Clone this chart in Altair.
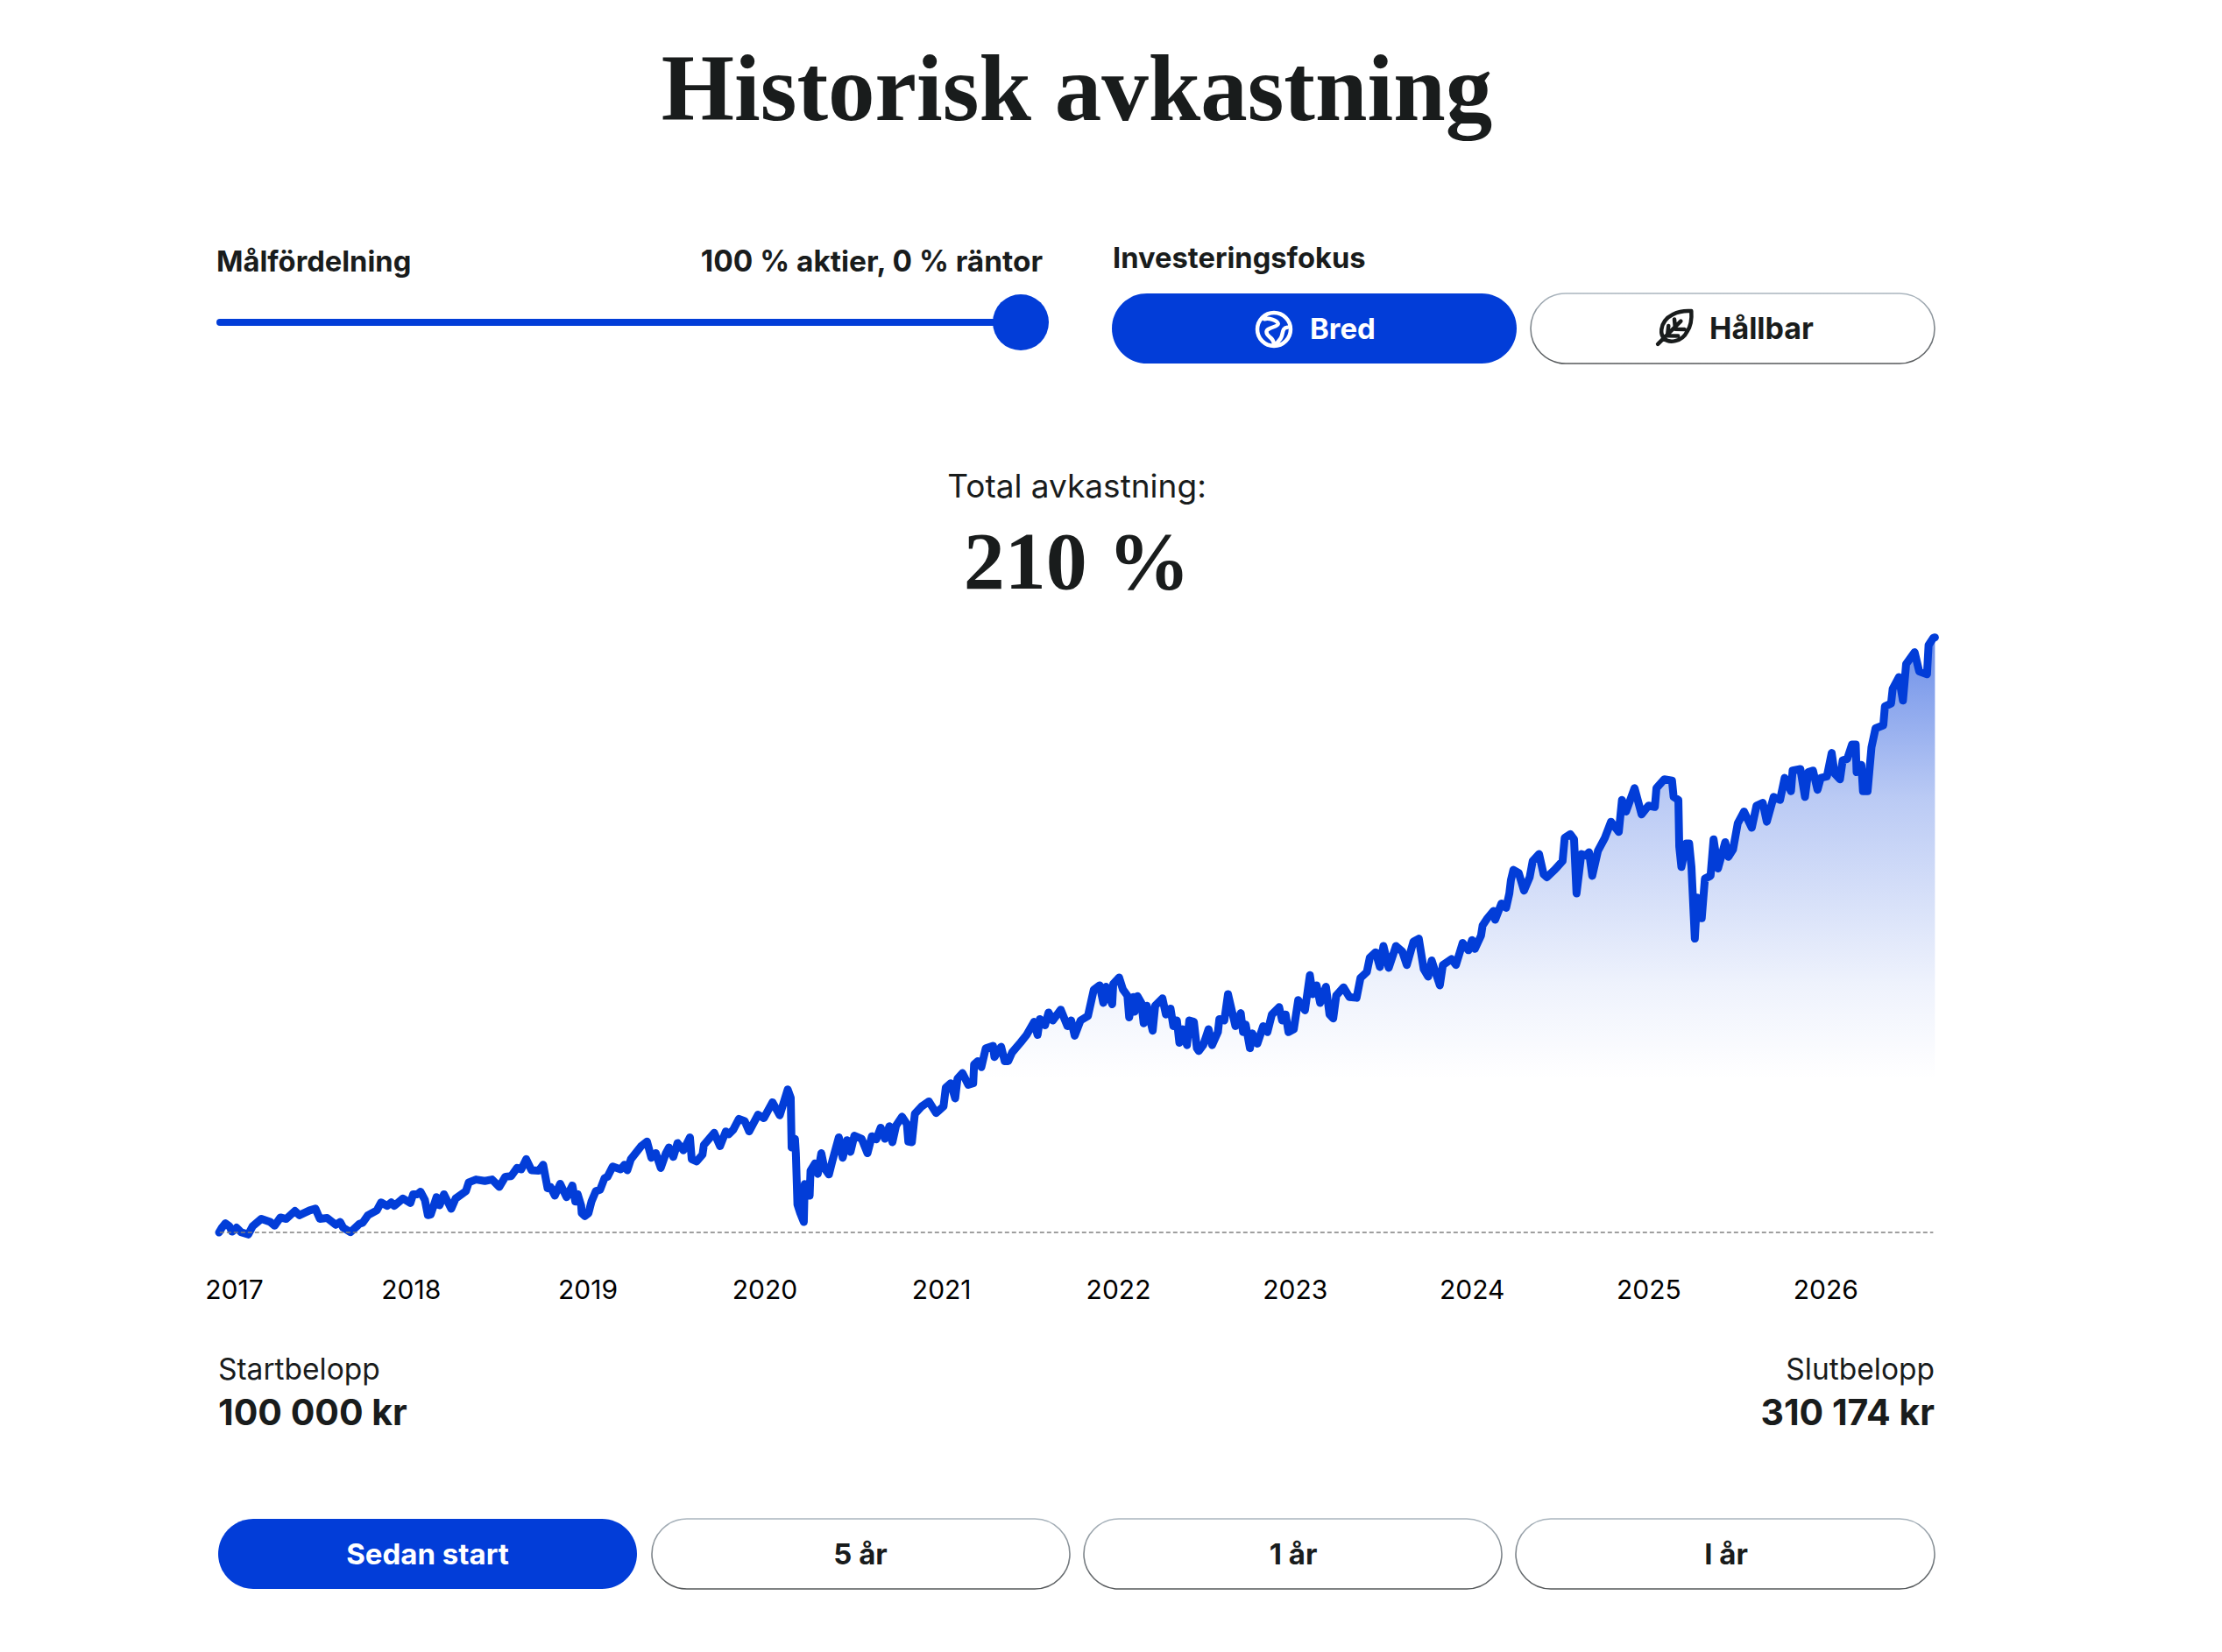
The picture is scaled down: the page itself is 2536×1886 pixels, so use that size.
import altair as alt
import pandas as pd

BLUE = "#023dd8"
INK = "#191c1c"
SERIF = "Liberation Serif"
SANS = "Inter"

# Chart values
years = [2016.916,2016.932,2016.952,2016.974,2016.990,2017.015,2017.040,2017.081,2017.106,2017.155,2017.205,2017.230,2017.263,2017.296,2017.345,2017.370,2017.428,2017.461,2017.486,2017.527,2017.576,2017.601,2017.618,2017.659,2017.709,2017.728,2017.758,2017.808,2017.832,2017.866,2017.890,2017.907,2017.956,2017.998,
2018.014,2018.039,2018.055,2018.080,2018.097,2018.113,2018.146,2018.163,2018.188,2018.229,2018.254,2018.312,2018.328,2018.369,2018.419,2018.460,2018.501,2018.535,2018.568,2018.601,2018.625,2018.653,2018.683,2018.724,2018.749,2018.774,2018.790,2018.815,2018.845,2018.881,2018.914,2018.931,2018.944,2018.964,2018.967,2018.984,
2019.005,2019.022,2019.047,2019.071,2019.096,2019.113,2019.142,2019.187,2019.208,2019.225,2019.245,2019.303,2019.336,2019.361,2019.386,2019.414,2019.443,2019.460,2019.485,2019.509,2019.542,2019.579,2019.589,2019.617,2019.650,2019.658,2019.716,2019.749,2019.782,2019.798,2019.823,2019.856,2019.889,2019.914,2019.964,2019.997,
2020.046,2020.087,2020.132,2020.149,2020.154,2020.173,2020.178,2020.187,2020.203,2020.223,2020.228,2020.256,2020.261,2020.286,2020.302,2020.322,2020.339,2020.365,2020.385,2020.421,2020.443,2020.467,2020.487,2020.509,2020.550,2020.583,2020.608,2020.633,2020.658,2020.682,2020.707,2020.724,2020.745,2020.778,2020.806,2020.814,2020.834,2020.851,2020.889,2020.930,2020.971,
2021.013,2021.026,2021.054,2021.079,2021.092,2021.120,2021.153,2021.181,2021.186,2021.207,2021.227,2021.252,2021.293,2021.301,2021.339,2021.359,2021.379,2021.401,2021.450,2021.483,2021.525,2021.545,2021.558,2021.587,2021.607,2021.631,2021.676,2021.714,2021.735,2021.755,2021.788,2021.830,2021.863,2021.896,2021.917,2021.932,2021.967,2021.973,
2022.006,2022.028,2022.053,2022.063,2022.086,2022.094,2022.110,2022.132,2022.145,2022.163,2022.196,2022.210,2022.251,2022.271,2022.297,2022.313,2022.333,2022.347,2022.366,2022.390,2022.403,2022.429,2022.446,2022.457,2022.482,2022.512,2022.532,2022.565,2022.573,2022.601,2022.622,2022.664,2022.694,2022.707,2022.722,2022.746,2022.760,2022.788,2022.821,2022.845,2022.870,2022.911,2022.928,2022.948,2022.964,2022.994,
2023.019,2023.057,2023.085,2023.101,2023.123,2023.143,2023.176,2023.196,2023.217,2023.234,2023.275,2023.308,2023.349,2023.371,2023.407,2023.424,2023.457,2023.481,2023.501,2023.531,2023.572,2023.608,2023.633,2023.671,2023.701,2023.729,2023.754,2023.774,2023.795,2023.820,2023.837,2023.886,2023.911,2023.949,2023.982,
2024.002,2024.018,2024.053,2024.062,2024.089,2024.124,2024.133,2024.168,2024.195,2024.213,2024.222,2024.236,2024.266,2024.296,2024.328,2024.345,2024.381,2024.407,2024.425,2024.469,2024.514,2024.526,2024.558,2024.579,2024.593,2024.620,2024.646,2024.664,2024.682,2024.714,2024.753,2024.788,2024.832,2024.850,2024.873,2024.921,2024.961,
2025.000,2025.036,2025.045,2025.089,2025.133,2025.142,2025.169,2025.174,2025.186,2025.213,2025.230,2025.243,2025.257,2025.262,2025.275,2025.301,2025.319,2025.351,2025.368,2025.393,2025.434,2025.452,2025.478,2025.505,2025.540,2025.584,2025.611,2025.646,2025.669,2025.708,2025.744,2025.770,2025.806,2025.815,2025.859,2025.885,2025.903,2025.930,2025.956,2025.974,
2026.009,2026.036,2026.053,2026.083,2026.098,2026.124,2026.151,2026.172,2026.177,2026.204,2026.213,2026.239,2026.261,2026.284,2026.328,2026.337,2026.372,2026.381,2026.416,2026.439,2026.457,2026.505,2026.531,2026.575,2026.584,2026.611,2026.620]

kkr = [100,101.7,103.2,102.2,100.3,101.7,100.1,99.3,102.2,104.8,103.7,102.4,105.3,104.8,107.6,106.1,107.8,108.4,104.8,105.1,102.7,103.7,101.7,100.1,103,103.4,106.1,107.8,110.6,109.4,110.6,109.4,112,110.4,
113.5,113.5,114.4,111.5,106.1,106.3,112.5,109.6,113.5,108.4,112,114.6,117.7,118.7,118.2,118.7,116.1,119.7,119.9,122.8,122.3,125.9,122,121.8,123.9,115.6,116.1,113,117.2,112.5,116.6,110.9,113.5,109.4,106.8,105.8,
106.8,110.9,114.6,115.1,119.2,119.7,123.3,122.3,123.9,122,125.9,130.5,132.1,126.4,128,122.8,128,130,126.7,131.6,129,133.6,125.9,125.1,127.5,130.9,135.2,130.5,135.7,134.7,136.2,140.1,139.3,135.7,141.6,140.4,
146,141.4,150.5,147.6,130,133.1,128,109.9,106.8,103.7,117.1,113,121.8,124.4,120.7,128,122.8,120.5,125.4,133.6,126.4,132.6,128.5,134.2,133.1,128,134,132.9,137,133.1,137.5,131.9,137.8,140.9,138.3,132.1,131.9,141.9,144.5,146.3,142.2,
144.5,151.2,152.7,147.4,154.3,156.3,152.2,152.7,159.4,160.5,158.4,165.1,165.9,162,165.6,160.5,160.5,163.6,167.2,169.8,174.4,169.8,175.4,173.2,177.7,174.9,178.7,172.9,174.9,169.5,174.9,176.5,185.8,187.3,181.1,186.8,180.6,187.8,
190.1,185.8,183.7,176,183.2,178,183.5,181.1,173.9,180.1,171.3,180.1,182.7,177,179.1,172.9,174.9,167,171.8,166.2,174.9,174.4,165.1,164.1,166.2,171.8,166.2,170.8,175.4,174.9,184.2,172.9,177.5,170.8,173.4,165.1,170.3,166.7,172.9,170.8,177,179.6,174.9,177,170.8,171.8,
182.1,178.5,190.9,184.2,187.3,181.1,186.8,177,175.6,183.7,186.6,183.2,182.9,189.9,192,197.1,199,193.8,201.2,193.5,201.2,199.2,194.5,202.8,203.8,193,190.4,196.1,192,187.3,194.5,196.6,194.5,202.3,199.7,
203.3,200.2,204.9,208.5,211,213.6,210.5,216.2,214.7,219.8,224.5,228.1,227,220.8,225.5,231.2,233.7,226.5,225.5,228.1,231.2,239.4,240.7,238.9,219.8,233.7,233.2,234.3,226,234.8,239.4,245.1,241.5,252.8,248.7,257,247.7,
250.8,250.3,257,260.1,259.6,253.9,252.8,236.3,229.1,237.4,237.4,229.1,210.5,203.8,218.3,211,225,226,238.9,228.6,237.9,232.7,235.3,244.6,248.7,243,250.8,251.8,245.1,253.9,252.8,260.6,255.9,263.2,263.7,253.9,262.6,263.2,256.4,260.6,
261.1,269.4,262.1,260.1,266.8,267.3,272.4,272.4,262.6,265.2,255.9,255.9,271.4,278.1,279.2,285.9,286.9,292.1,296.2,287.9,300.8,305,298.2,297.2,307.5,310.1,310.2]

tick_years = [2017, 2018, 2019, 2020, 2021, 2022, 2023, 2024, 2025, 2026]
base_kkr = [100] * len(years)

LEFT, TOP, W, H = 248, 700, 1962, 740
TOTAL_W, TOTAL_H = 2510, 1860


def X(v):
    return alt.value(v - LEFT)


def Y(v):
    return alt.value(v - TOP)


blank = alt.Data(values=[{}])
df = pd.DataFrame({"year": years, "kkr": kkr, "base": base_kkr})

xs = alt.Scale(domain=[2016.906, 2026.628], nice=False, zero=False)
ys = alt.Scale(domain=[89.8, 318.8], nice=False, zero=False)

fade = alt.Gradient(
    gradient="linear", x1=0, y1=0, x2=0, y2=1,
    stops=[
        alt.GradientStop(offset=0, color="rgba(2,61,216,0.58)"),
        alt.GradientStop(offset=0.27, color="rgba(2,61,216,0.27)"),
        alt.GradientStop(offset=0.58, color="rgba(2,61,216,0.065)"),
        alt.GradientStop(offset=0.74, color="rgba(2,61,216,0)"),
        alt.GradientStop(offset=1, color="rgba(2,61,216,0)"),
    ],
)
edge = alt.Gradient(
    gradient="linear", x1=0, y1=0, x2=0, y2=1,
    stops=[
        alt.GradientStop(offset=0, color="#aab5be"),
        alt.GradientStop(offset=1, color="#55585a"),
    ],
)

area = alt.Chart(df).mark_area(color=fade, line=False, interpolate="linear").encode(
    x=alt.X("year:Q", scale=xs, axis=alt.Axis(
        values=tick_years, format="d", title=None, domain=False, ticks=False, grid=False,
        labelFont=SANS, labelFontSize=30, labelColor="#000000", labelPadding=18,
        labelFlush=False, labelOverlap=False)),
    y=alt.Y("kkr:Q", scale=ys, axis=None),
    y2="base:Q",
)
line = alt.Chart(df).mark_line(
    color=BLUE, strokeWidth=9, strokeCap="round", strokeJoin="round", interpolate="linear"
).encode(x=alt.X("year:Q", scale=xs), y=alt.Y("kkr:Q", scale=ys))
zero = alt.Chart(blank).mark_rule(color="#808080", strokeWidth=1.5, strokeDash=[5, 3]).encode(
    x=alt.X(datum=2016.92, scale=xs),
    x2=alt.X2(datum=2026.61),
    y=alt.Y(datum=100, scale=ys),
)


def text(s, x, y, size, align="left", weight="normal", font=SANS, color=INK):
    return alt.Chart(blank).mark_text(
        text=s, align=align, baseline="alphabetic", fontSize=size, fontWeight=weight, font=font, color=color
    ).encode(x=X(x), y=Y(y))


def pill(x0, x1, y0, y1, active):
    if active:
        m = alt.Chart(blank).mark_rect(color=BLUE, cornerRadius=40)
    else:
        m = alt.Chart(blank).mark_rect(fill="#ffffff", stroke=edge, strokeWidth=1.6, cornerRadius=40)
    return m.encode(x=X(x0), x2=X(x1), y=Y(y0), y2=Y(y1))


def icon(path, x, y, size, color):
    return alt.Chart(blank).mark_point(
        shape=path, filled=False, stroke=color, strokeWidth=4.5, size=size, opacity=1,
        strokeCap="round", strokeJoin="round"
    ).encode(x=X(x), y=Y(y))


GLOBE = ("M-1,0A1,1 0 1,1 1,0A1,1 0 1,1 -1,0Z"
         "M-.58,-.62C-.3,-.7 .2,-.55 .25,-.33C.25,-.15 -.45,-.1 -.45,.15C-.45,.5 -.05,.4 0,.88"
         "M.8,-.12C.5,-.1 .55,.2 .45,.45C.4,.6 .25,.7 .17,.85")
LEAF = ("M.92,-.9C.3,-.95 -.6,-.7 -.7,.1C-.72,.3 -.65,.5 -.55,.6C-.3,.85 .4,.8 .7,.2C.9,-.1 .95,-.5 .92,-.9Z"
        "M-.9,.9L.35,-.35M-.38,.44L-.32,-.1M-.38,.44L.2,.45M.05,.08L0,-.45M.05,.08L.55,.1")

track = alt.Chart(blank).mark_rule(color=BLUE, strokeWidth=8, strokeCap="round").encode(
    x=X(251), x2=X(1165), y=Y(368)
)
knob = alt.Chart(blank).mark_point(filled=True, color=BLUE, size=4096, opacity=1, shape="circle").encode(
    x=X(1165), y=Y(368)
)

chart = alt.layer(
    area, line, zero,
    text("Historisk avkastning", 1229, 137, 107, "center", "bold", SERIF),
    text("Målfördelning", 247, 310, 32.7, "left", "bold"),
    text("100 % aktier, 0 % räntor", 1190, 310, 33.4, "right", "bold"),
    track, knob,
    text("Investeringsfokus", 1270, 306, 32.7, "left", "bold"),
    pill(1269, 1731, 335, 415, True),
    pill(1747, 2208, 335, 415, False),
    icon(GLOBE, 1454, 376, 1440, "#ffffff"),
    icon(LEAF, 1911, 374, 1764, INK),
    text("Bred", 1495, 387, 33, "left", "bold", color="#ffffff"),
    text("Hållbar", 1951, 387, 34, "left", "bold"),
    text("Total avkastning:", 1229, 568, 37, "center"),
    text("210 %", 1229, 672, 94, "center", "bold", SERIF),
    text("Startbelopp", 249, 1575, 33.5),
    text("100 000 kr", 249, 1627, 41, "left", "bold"),
    text("Slutbelopp", 2208, 1575, 33.5, "right"),
    text("310 174 kr", 2208, 1627, 41, "right", "bold"),
    pill(249, 727, 1734, 1814, True),
    pill(744, 1221, 1734, 1814, False),
    pill(1237, 1714, 1734, 1814, False),
    pill(1730, 2208, 1734, 1814, False),
    text("Sedan start", 488, 1786, 33, "center", "bold", color="#ffffff"),
    text("5 år", 982, 1786, 33, "center", "bold"),
    text("1 år", 1476, 1786, 33, "center", "bold"),
    text("I år", 1970, 1786, 33, "center", "bold"),
).properties(
    width=W, height=H,
    autosize=alt.AutoSizeParams(type="none"),
    padding={"left": LEFT - 8, "top": TOP - 8, "right": TOTAL_W - (LEFT - 8) - W, "bottom": TOTAL_H - (TOP - 8) - H},
    background="#ffffff",
).configure_view(stroke=None)

chart.save("out.html", embed_options={"renderer": "svg", "actions": False})
